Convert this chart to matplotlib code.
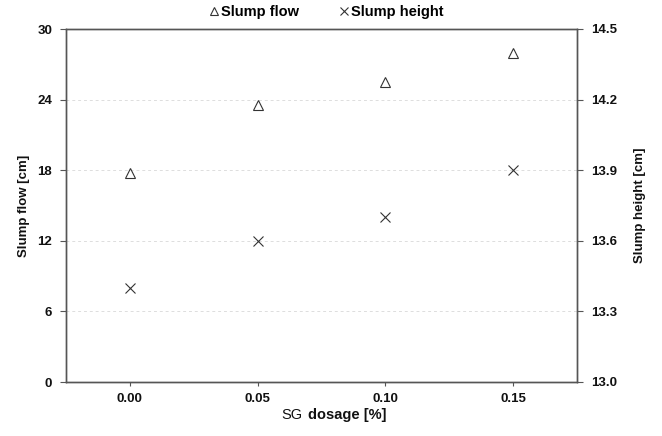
import matplotlib
matplotlib.use("Agg")
import matplotlib.pyplot as plt
from matplotlib.offsetbox import TextArea, HPacker, AnnotationBbox

plt.rcParams['font.family'] = ['Liberation Sans', 'DejaVu Sans']

dosage = [0.00, 0.05, 0.10, 0.15]
slump_flow = [17.8, 23.5, 25.5, 28.0]
slump_height = [13.4, 13.6, 13.7, 13.9]
xticks = [0.00, 0.05, 0.10, 0.15]
yticks_left = [0, 6, 12, 18, 24, 30]
yticks_right = [13.0, 13.3, 13.6, 13.9, 14.2, 14.5]

W, H = 662, 436
fig = plt.figure(figsize=(W / 100, H / 100), dpi=100)
ax = fig.add_axes([66 / W, (H - 382) / H, (577 - 66) / W, (382 - 29) / H])
ax2 = ax.twinx()

spine_c = '#555555'
mk_c = '#333333'

l1, = ax.plot(dosage, slump_flow, linestyle='none', marker='^', markersize=7.5,
              markerfacecolor='none', markeredgecolor=mk_c, markeredgewidth=0.8,
              label='Slump flow')
l2, = ax2.plot(dosage, slump_height, linestyle='none', marker='x', markersize=7.5,
               color=mk_c, markeredgewidth=0.8, label='Slump height')

ax.set_xlim(-0.025, 0.175)
ax.set_ylim(0, 30)
ax2.set_ylim(13.0, 14.5)
ax.set_xticks(xticks)
ax.set_xticklabels([f"{v:.2f}" for v in xticks])
ax.set_yticks(yticks_left)
ax.set_yticklabels([f"{v:d}" for v in yticks_left])
ax2.set_yticks(yticks_right)
ax2.set_yticklabels([f"{v:.1f}" for v in yticks_right])

for a in (ax, ax2):
    for s in a.spines.values():
        s.set_color(spine_c)
        s.set_linewidth(1.0)
    a.tick_params(colors=spine_c, labelcolor='#111111', labelsize=9.5, length=4, width=0.8, direction='out')
    for lab in a.get_xticklabels() + a.get_yticklabels():
        lab.set_fontweight('bold')
ax.tick_params(axis='x', pad=5, length=3)
ax.tick_params(axis='y', pad=6)
ax2.tick_params(axis='y', pad=6)

ax.yaxis.grid(True, linestyle=(0, (3, 3)), color='#dddddd', linewidth=0.7)
ax.set_axisbelow(True)

ax.set_ylabel('Slump flow [cm]', fontsize=9.5, fontweight='bold', labelpad=5, color='#111111')
ax2.set_ylabel('Slump height [cm]', fontsize=9.5, fontweight='bold', labelpad=12, color='#111111')

# x label with mixed weights
t1 = TextArea('SG', textprops=dict(fontsize=10.5, color='#111111'))
t2 = TextArea('dosage [%]', textprops=dict(fontsize=10.5, fontweight='bold', color='#111111'))
pack = HPacker(children=[t1, t2], align='baseline', pad=0, sep=4)
ab = AnnotationBbox(pack, ((334 - 66) / 511, 0), xycoords='axes fraction', xybox=(0, -24),
                    boxcoords='offset points', frameon=False, box_alignment=(0.5, 0.5))
ax.add_artist(ab)

leg = fig.legend(handles=[l1, l2], loc='center', bbox_to_anchor=(325 / W, (H - 12) / H),
                 ncol=2, frameon=False, handletextpad=0.0,
                 columnspacing=2.6, handlelength=1.0, markerscale=0.8,
                 prop=dict(weight='bold', size=10.5))

fig.savefig('out.png', dpi=100)
